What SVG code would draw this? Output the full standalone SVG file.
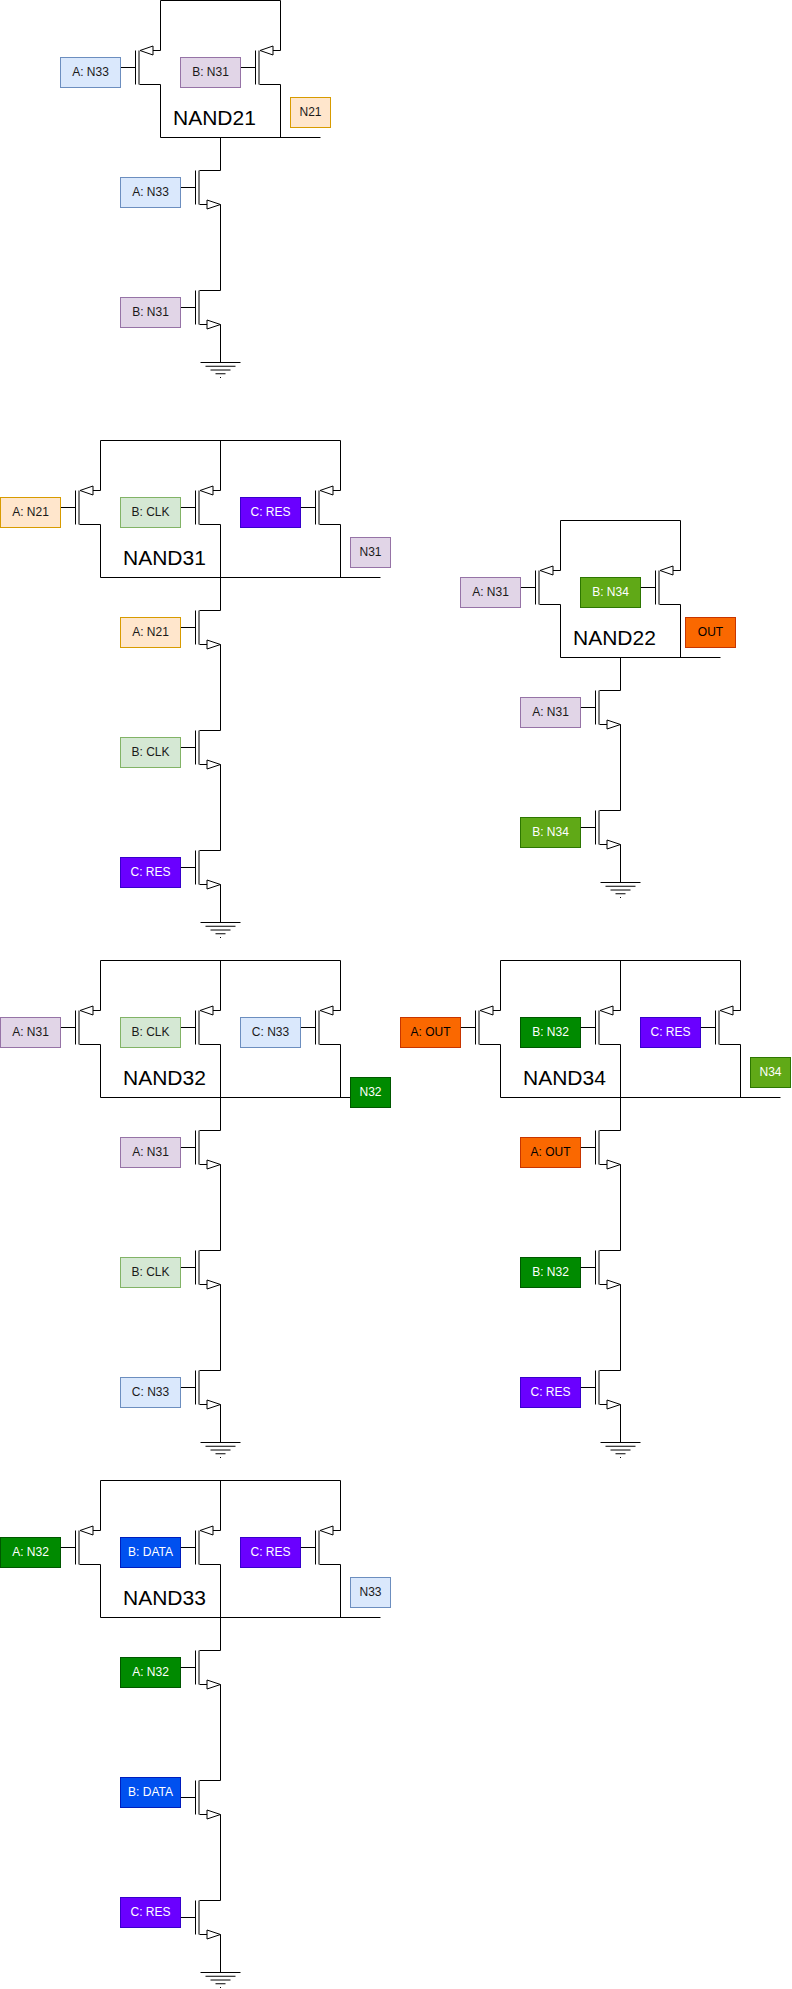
<svg xmlns="http://www.w3.org/2000/svg" width="792" height="1989" viewBox="0 0 792 1989">
<style>
text{font-family:"Liberation Sans",Arial,sans-serif;font-size:12px;text-anchor:middle;fill:#1a1a1a}
text.w{fill:#fff}
text.k{fill:#000}
text.t{font-size:21px;text-anchor:start;fill:#000}
rect{stroke-width:1}
.wire,.sym{fill:none;stroke:#000;stroke-width:1}
.blue{fill:#dae8fc;stroke:#6c8ebf}
.purple{fill:#e1d5e7;stroke:#9673a6}
.orange{fill:#ffe6cc;stroke:#d79b00}
.green{fill:#d5e8d4;stroke:#82b366}
.violet{fill:#6a00ff;stroke:#3700cc}
.dkgreen{fill:#008a00;stroke:#005700}
.cobalt{fill:#0050ef;stroke:#001dbc}
.lime{fill:#60a917;stroke:#2d7600}
.red{fill:#fa6800;stroke:#c73500}
</style>
<defs>
<g id="pmos" class="sym"><path d="M-25 0V34M-21.500 0V34M-21 34H0M-7.500 0H0"/><path d="M-20.500 0L-7.500 -4.500V4.500Z" fill="#fff"/></g>
<g id="nmos" class="sym"><path d="M-25 0V34M-21.500 0V34M-21 0H0M-21 34H-13.500"/><path d="M0 34L-13.500 29.500V38.500Z" fill="#fff"/></g>
<g id="gnd" class="sym"><path d="M-20 0H20M-15 3.750H15M-10 7.500H10M-5 11.250H5M-0.500 15H0.500"/></g>
</defs>
<g id="connectors" class="wire">
<path d="M160.500 50.500V0.500H280.500V50.500M160.500 84.500V137.500H320.500M280.500 84.500V137.500M220.500 137.500V170.500M220.500 204.500V290.500M220.500 324.500V362.500M120.500 67.500H136M240.500 67.500H256M180.500 187.500H196M180.500 307.500H196"/>
<path d="M100.500 490.500V440.500H340.500V490.500M220.500 440.500V490.500M100.500 524.500V577.500H380.500M220.500 524.500V610.500M340.500 524.500V577.500M220.500 644.500V730.500M220.500 764.500V850.500M220.500 884.500V922.500M60.500 507.500H76M180.500 507.500H196M300.500 507.500H316M180.500 627.500H196M180.500 747.500H196M180.500 867.500H196"/>
<path d="M560.500 570.500V520.500H680.500V570.500M560.500 604.500V657.500H720.500M680.500 604.500V657.500M620.500 657.500V690.500M620.500 724.500V810.500M620.500 844.500V882.500M520.500 587.500H536M640.500 587.500H656M580.500 707.500H596M580.500 827.500H596"/>
<path d="M100.500 1010.500V960.500H340.500V1010.500M220.500 960.500V1010.500M100.500 1044.500V1097.500H380.500M220.500 1044.500V1130.500M340.500 1044.500V1097.500M220.500 1164.500V1250.500M220.500 1284.500V1370.500M220.500 1404.500V1442.500M60.500 1027.500H76M180.500 1027.500H196M300.500 1027.500H316M180.500 1147.500H196M180.500 1267.500H196M180.500 1387.500H196"/>
<path d="M500.500 1010.500V960.500H740.500V1010.500M620.500 960.500V1010.500M500.500 1044.500V1097.500H780.500M620.500 1044.500V1130.500M740.500 1044.500V1097.500M620.500 1164.500V1250.500M620.500 1284.500V1370.500M620.500 1404.500V1442.500M460.500 1027.500H476M580.500 1027.500H596M700.500 1027.500H716M580.500 1147.500H596M580.500 1267.500H596M580.500 1387.500H596"/>
<path d="M100.500 1530.500V1480.500H340.500V1530.500M220.500 1480.500V1530.500M100.500 1564.500V1617.500H380.500M220.500 1564.500V1650.500M340.500 1564.500V1617.500M220.500 1684.500V1780.500M220.500 1814.500V1900.500M220.500 1934.500V1972.500M60.500 1547.500H76M180.500 1547.500H196M300.500 1547.500H316M180.500 1667.500H196M180.500 1797.500H196M180.500 1917.500H196"/>
</g>

<g id="nand21">
<text class="t" x="173" y="125">NAND21</text>
<g id="n21-p1"><use href="#pmos" x="160.500" y="50.500"/></g>
<g id="n21-p2"><use href="#pmos" x="280.500" y="50.500"/></g>
<g id="n21-n1"><use href="#nmos" x="220.500" y="170.500"/></g>
<g id="n21-n2"><use href="#nmos" x="220.500" y="290.500"/></g>
<g id="n21-gnd"><use href="#gnd" x="220.500" y="362.500"/></g>
<g id="n21-pa"><rect class="blue" x="60.500" y="57.500" width="60" height="30"/><text x="90.500" y="76">A: N33</text></g>
<g id="n21-pb"><rect class="purple" x="180.500" y="57.500" width="60" height="30"/><text x="210.500" y="76">B: N31</text></g>
<g id="n21-out"><rect class="orange" x="290.500" y="97.500" width="40" height="30"/><text x="310.500" y="116">N21</text></g>
<g id="n21-na"><rect class="blue" x="120.500" y="177.500" width="60" height="30"/><text x="150.500" y="196">A: N33</text></g>
<g id="n21-nb"><rect class="purple" x="120.500" y="297.500" width="60" height="30"/><text x="150.500" y="316">B: N31</text></g>
</g>

<g id="nand31">
<text class="t" x="123" y="565">NAND31</text>
<g id="n31-p1"><use href="#pmos" x="100.500" y="490.500"/></g>
<g id="n31-p2"><use href="#pmos" x="220.500" y="490.500"/></g>
<g id="n31-p3"><use href="#pmos" x="340.500" y="490.500"/></g>
<g id="n31-n1"><use href="#nmos" x="220.500" y="610.500"/></g>
<g id="n31-n2"><use href="#nmos" x="220.500" y="730.500"/></g>
<g id="n31-n3"><use href="#nmos" x="220.500" y="850.500"/></g>
<g id="n31-gnd"><use href="#gnd" x="220.500" y="922.500"/></g>
<g id="n31-pa"><rect class="orange" x="0.500" y="497.500" width="60" height="30"/><text x="30.500" y="516">A: N21</text></g>
<g id="n31-pb"><rect class="green" x="120.500" y="497.500" width="60" height="30"/><text x="150.500" y="516">B: CLK</text></g>
<g id="n31-pc"><rect class="violet" x="240.500" y="497.500" width="60" height="30"/><text class="w" x="270.500" y="516">C: RES</text></g>
<g id="n31-out"><rect class="purple" x="350.500" y="537.500" width="40" height="30"/><text x="370.500" y="556">N31</text></g>
<g id="n31-na"><rect class="orange" x="120.500" y="617.500" width="60" height="30"/><text x="150.500" y="636">A: N21</text></g>
<g id="n31-nb"><rect class="green" x="120.500" y="737.500" width="60" height="30"/><text x="150.500" y="756">B: CLK</text></g>
<g id="n31-nc"><rect class="violet" x="120.500" y="857.500" width="60" height="30"/><text class="w" x="150.500" y="876">C: RES</text></g>
</g>

<g id="nand22">
<text class="t" x="573" y="645">NAND22</text>
<g id="n22-p1"><use href="#pmos" x="560.500" y="570.500"/></g>
<g id="n22-p2"><use href="#pmos" x="680.500" y="570.500"/></g>
<g id="n22-n1"><use href="#nmos" x="620.500" y="690.500"/></g>
<g id="n22-n2"><use href="#nmos" x="620.500" y="810.500"/></g>
<g id="n22-gnd"><use href="#gnd" x="620.500" y="882.500"/></g>
<g id="n22-pa"><rect class="purple" x="460.500" y="577.500" width="60" height="30"/><text x="490.500" y="596">A: N31</text></g>
<g id="n22-pb"><rect class="lime" x="580.500" y="577.500" width="60" height="30"/><text class="w" x="610.500" y="596">B: N34</text></g>
<g id="n22-out"><rect class="red" x="685.500" y="617.500" width="50" height="30"/><text class="k" x="710.500" y="636">OUT</text></g>
<g id="n22-na"><rect class="purple" x="520.500" y="697.500" width="60" height="30"/><text x="550.500" y="716">A: N31</text></g>
<g id="n22-nb"><rect class="lime" x="520.500" y="817.500" width="60" height="30"/><text class="w" x="550.500" y="836">B: N34</text></g>
</g>

<g id="nand32">
<text class="t" x="123" y="1085">NAND32</text>
<g id="n32-p1"><use href="#pmos" x="100.500" y="1010.500"/></g>
<g id="n32-p2"><use href="#pmos" x="220.500" y="1010.500"/></g>
<g id="n32-p3"><use href="#pmos" x="340.500" y="1010.500"/></g>
<g id="n32-n1"><use href="#nmos" x="220.500" y="1130.500"/></g>
<g id="n32-n2"><use href="#nmos" x="220.500" y="1250.500"/></g>
<g id="n32-n3"><use href="#nmos" x="220.500" y="1370.500"/></g>
<g id="n32-gnd"><use href="#gnd" x="220.500" y="1442.500"/></g>
<g id="n32-pa"><rect class="purple" x="0.500" y="1017.500" width="60" height="30"/><text x="30.500" y="1036">A: N31</text></g>
<g id="n32-pb"><rect class="green" x="120.500" y="1017.500" width="60" height="30"/><text x="150.500" y="1036">B: CLK</text></g>
<g id="n32-pc"><rect class="blue" x="240.500" y="1017.500" width="60" height="30"/><text x="270.500" y="1036">C: N33</text></g>
<g id="n32-out"><rect class="dkgreen" x="350.500" y="1077.500" width="40" height="30"/><text class="w" x="370.500" y="1096">N32</text></g>
<g id="n32-na"><rect class="purple" x="120.500" y="1137.500" width="60" height="30"/><text x="150.500" y="1156">A: N31</text></g>
<g id="n32-nb"><rect class="green" x="120.500" y="1257.500" width="60" height="30"/><text x="150.500" y="1276">B: CLK</text></g>
<g id="n32-nc"><rect class="blue" x="120.500" y="1377.500" width="60" height="30"/><text x="150.500" y="1396">C: N33</text></g>
</g>

<g id="nand34">
<text class="t" x="523" y="1085">NAND34</text>
<g id="n34-p1"><use href="#pmos" x="500.500" y="1010.500"/></g>
<g id="n34-p2"><use href="#pmos" x="620.500" y="1010.500"/></g>
<g id="n34-p3"><use href="#pmos" x="740.500" y="1010.500"/></g>
<g id="n34-n1"><use href="#nmos" x="620.500" y="1130.500"/></g>
<g id="n34-n2"><use href="#nmos" x="620.500" y="1250.500"/></g>
<g id="n34-n3"><use href="#nmos" x="620.500" y="1370.500"/></g>
<g id="n34-gnd"><use href="#gnd" x="620.500" y="1442.500"/></g>
<g id="n34-pa"><rect class="red" x="400.500" y="1017.500" width="60" height="30"/><text class="k" x="430.500" y="1036">A: OUT</text></g>
<g id="n34-pb"><rect class="dkgreen" x="520.500" y="1017.500" width="60" height="30"/><text class="w" x="550.500" y="1036">B: N32</text></g>
<g id="n34-pc"><rect class="violet" x="640.500" y="1017.500" width="60" height="30"/><text class="w" x="670.500" y="1036">C: RES</text></g>
<g id="n34-out"><rect class="lime" x="750.500" y="1057.500" width="40" height="30"/><text class="w" x="770.500" y="1076">N34</text></g>
<g id="n34-na"><rect class="red" x="520.500" y="1137.500" width="60" height="30"/><text class="k" x="550.500" y="1156">A: OUT</text></g>
<g id="n34-nb"><rect class="dkgreen" x="520.500" y="1257.500" width="60" height="30"/><text class="w" x="550.500" y="1276">B: N32</text></g>
<g id="n34-nc"><rect class="violet" x="520.500" y="1377.500" width="60" height="30"/><text class="w" x="550.500" y="1396">C: RES</text></g>
</g>

<g id="nand33">
<text class="t" x="123" y="1605">NAND33</text>
<g id="n33-p1"><use href="#pmos" x="100.500" y="1530.500"/></g>
<g id="n33-p2"><use href="#pmos" x="220.500" y="1530.500"/></g>
<g id="n33-p3"><use href="#pmos" x="340.500" y="1530.500"/></g>
<g id="n33-n1"><use href="#nmos" x="220.500" y="1650.500"/></g>
<g id="n33-n2"><use href="#nmos" x="220.500" y="1780.500"/></g>
<g id="n33-n3"><use href="#nmos" x="220.500" y="1900.500"/></g>
<g id="n33-gnd"><use href="#gnd" x="220.500" y="1972.500"/></g>
<g id="n33-pa"><rect class="dkgreen" x="0.500" y="1537.500" width="60" height="30"/><text class="w" x="30.500" y="1556">A: N32</text></g>
<g id="n33-pb"><rect class="cobalt" x="120.500" y="1537.500" width="60" height="30"/><text class="w" x="150.500" y="1556">B: DATA</text></g>
<g id="n33-pc"><rect class="violet" x="240.500" y="1537.500" width="60" height="30"/><text class="w" x="270.500" y="1556">C: RES</text></g>
<g id="n33-out"><rect class="blue" x="350.500" y="1577.500" width="40" height="30"/><text x="370.500" y="1596">N33</text></g>
<g id="n33-na"><rect class="dkgreen" x="120.500" y="1657.500" width="60" height="30"/><text class="w" x="150.500" y="1676">A: N32</text></g>
<g id="n33-nb"><rect class="cobalt" x="120.500" y="1777.500" width="60" height="30"/><text class="w" x="150.500" y="1796">B: DATA</text></g>
<g id="n33-nc"><rect class="violet" x="120.500" y="1897.500" width="60" height="30"/><text class="w" x="150.500" y="1916">C: RES</text></g>
</g>
</svg>
